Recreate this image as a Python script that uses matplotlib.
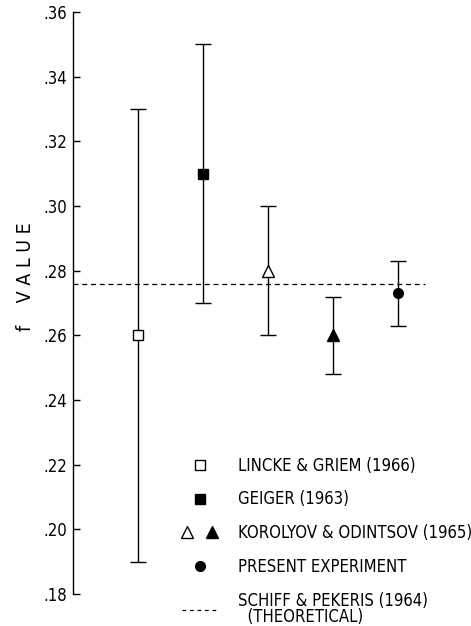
import matplotlib
matplotlib.use("Agg")
import matplotlib.pyplot as plt
from matplotlib.lines import Line2D
from matplotlib.legend_handler import HandlerTuple

plt.rcParams['font.family'] = ['DejaVu Sans']
plt.rcParams['font.stretch'] = 'condensed'

# データ
positions = [1, 2, 3, 4, 5]
f_values = [0.260, 0.310, 0.280, 0.260, 0.273]
err_low = [0.190, 0.270, 0.260, 0.248, 0.263]
err_high = [0.330, 0.350, 0.300, 0.272, 0.283]
markers = ['s', 's', '^', '^', 'o']
filled = [False, True, False, True, True]
theory_value = 0.276

y_ticks = [0.18, 0.20, 0.22, 0.24, 0.26, 0.28, 0.30, 0.32, 0.34, 0.36]
y_tick_labels = ['.18', '.20', '.22', '.24', '.26', '.28', '.30', '.32', '.34', '.36']

legend_labels = ['LINCKE & GRIEM (1966)', 'GEIGER (1963)',
                 'KOROLYOV & ODINTSOV (1965)', 'PRESENT EXPERIMENT',
                 'SCHIFF & PEKERIS (1964)\n  (THEORETICAL)']

fig = plt.figure(figsize=(4.71, 6.26), dpi=100)
ax = fig.add_axes([73 / 471, 32 / 626, 398 / 471, 582 / 626])

# エラーバー付きの点を描く
for x, v, lo, hi, m, fl in zip(positions, f_values, err_low, err_high, markers, filled):
    ax.errorbar(x, v, yerr=[[v - lo], [hi - v]], fmt=m, color='black',
                mfc='black' if fl else 'white', mec='black', ms=7 if m != '^' else 8,
                mew=1.0, elinewidth=1.0, capsize=6, capthick=1.0, zorder=3)

# 理論値の破線
ax.axhline(theory_value, xmin=0, xmax=0.885, color='black', lw=0.9,
           dashes=(4, 3), zorder=1)

ax.set_xlim(0, 6.12)
ax.set_ylim(0.18, 0.36)
ax.set_yticks(y_ticks)
ax.set_yticklabels(y_tick_labels, fontsize=12)
ax.set_xticks([])
ax.tick_params(axis='y', direction='in', length=5, width=1, pad=4)
for s in ['top', 'right', 'bottom']:
    ax.spines[s].set_visible(False)
ax.spines['left'].set_linewidth(1.0)

ax.set_ylabel('f    V A L U E', fontsize=14)
ax.yaxis.set_label_coords(-0.095, 0.545)

# 凡例
h_open_sq = Line2D([], [], ls='none', marker='s', mfc='white', mec='black', ms=7)
h_fill_sq = Line2D([], [], ls='none', marker='s', mfc='black', mec='black', ms=7)
h_open_tri = Line2D([], [], ls='none', marker='^', mfc='white', mec='black', ms=8)
h_fill_tri = Line2D([], [], ls='none', marker='^', mfc='black', mec='black', ms=8)
h_circle = Line2D([], [], ls='none', marker='o', mfc='black', mec='black', ms=7)
h_dash = Line2D([], [], color='black', lw=0.9, dashes=(3, 3))

leg = ax.legend([h_open_sq, h_fill_sq, (h_open_tri, h_fill_tri), h_circle, h_dash],
                legend_labels, handler_map={tuple: HandlerTuple(ndivide=None, pad=0.8)},
                loc='upper left', bbox_to_anchor=(0.235, 0.262), frameon=False,
                fontsize=12, handlelength=2.2, handletextpad=1.18, labelspacing=0.95)
leg.get_texts()[-1].set_linespacing(0.85)

fig.savefig('out.png', dpi=100)
